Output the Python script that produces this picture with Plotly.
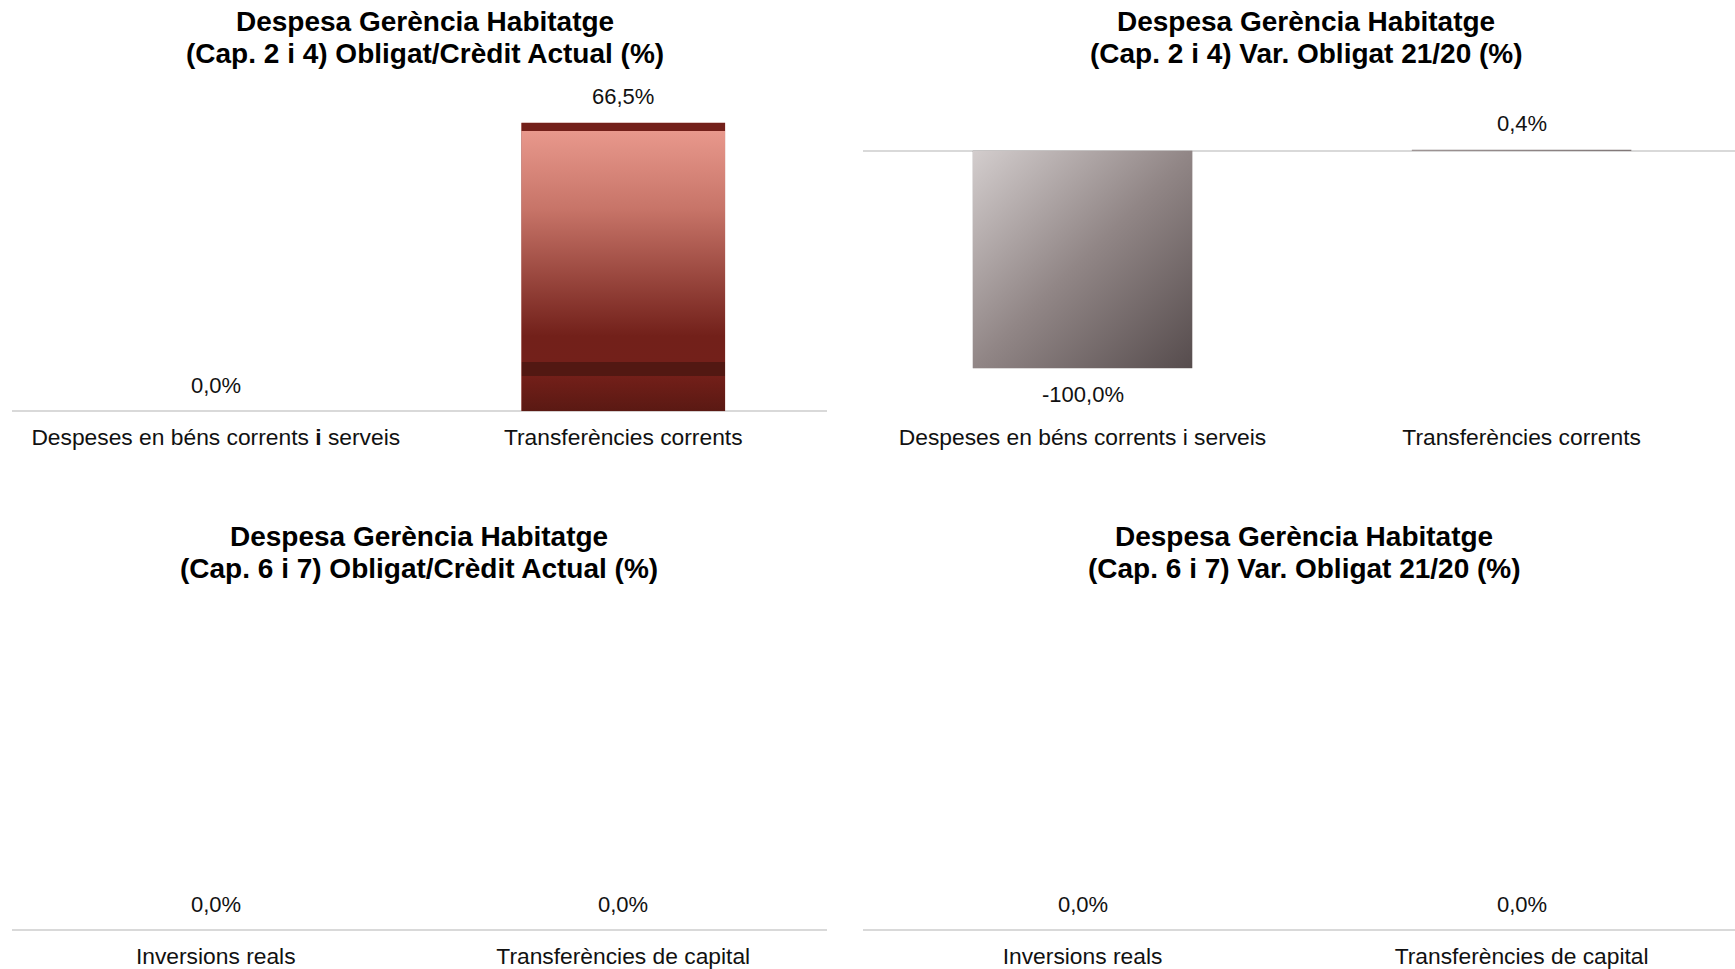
import base64
import plotly.graph_objects as go

# categories
cats_cap24 = ["Despeses en béns corrents i serveis", "Transferències corrents"]
cats_cap67 = ["Inversions reals", "Transferències de capital"]

# values (%)
oblig_credit_24 = [0.0, 66.5]
var_oblig_24 = [-100.0, 0.4]
oblig_credit_67 = [0.0, 0.0]
var_oblig_67 = [0.0, 0.0]

titles = [
    ["Despesa Gerència Habitatge", "(Cap. 2 i 4) Obligat/Crèdit Actual (%)"],
    ["Despesa Gerència Habitatge", "(Cap. 2 i 4) Var. Obligat 21/20 (%)"],
    ["Despesa Gerència Habitatge", "(Cap. 6 i 7) Obligat/Crèdit Actual (%)"],
    ["Despesa Gerència Habitatge", "(Cap. 6 i 7) Var. Obligat 21/20 (%)"],
]

W, H = 1735, 969
BAR_W = 0.5


def svg_uri(grad, x2, y2):
    stops = "".join(f"<stop offset='{o}' stop-color='{c}'/>" for o, c in grad)
    svg = ("<svg xmlns='http://www.w3.org/2000/svg' width='100' height='100' "
           "viewBox='0 0 100 100' preserveAspectRatio='none'>"
           f"<defs><linearGradient id='g' x1='0' y1='0' x2='{x2}' y2='{y2}'>{stops}"
           "</linearGradient></defs><rect width='100' height='100' fill='url(#g)'/></svg>")
    return "data:image/svg+xml;base64," + base64.b64encode(svg.encode()).decode()


red_grad = svg_uri([(0, "#73201a"), (0.029, "#73201a"), (0.029, "#e8988c"),
                    (0.30, "#c77468"), (0.74, "#72201a"), (0.829, "#73201a"),
                    (0.829, "#521812"), (0.877, "#521812"), (0.877, "#731f19"),
                    (1, "#5a1913")], 0, 1)
grey_grad = svg_uri([(0, "#d3cdcd"), (0.5, "#918686"), (1, "#564c4d")], 1, 1)


def px_y(p):
    return 1 - p / H


panels = [
    dict(cats=cats_cap24, vals=oblig_credit_24, xd=[12 / W, 827 / W], xr=[-0.5, 1.5],
         yd=[px_y(412), px_y(90)], yr=[0, 74.09], img=red_grad, col="#a04a3f",
         tx=425, ty=[22, 54], bold_i=True),
    dict(cats=cats_cap24, vals=var_oblig_24, xd=[863 / W, 1.0], xr=[-0.5, 1.486],
         yd=[px_y(412), px_y(90)], yr=[-119.72, 27.98], img=grey_grad, col="#8c8282",
         tx=1306, ty=[22, 54], bold_i=False),
    dict(cats=cats_cap67, vals=oblig_credit_67, xd=[12 / W, 827 / W], xr=[-0.5, 1.5],
         yd=[px_y(932), px_y(610)], yr=[0, 1], img=red_grad, col="#a04a3f",
         tx=419, ty=[538, 570], bold_i=False),
    dict(cats=cats_cap67, vals=var_oblig_67, xd=[863 / W, 1.0], xr=[-0.5, 1.486],
         yd=[px_y(932), px_y(610)], yr=[0, 1], img=grey_grad, col="#8c8282",
         tx=1304, ty=[538, 570], bold_i=False),
]

fig = go.Figure()
annotations = []
images = []

for i, p in enumerate(panels):
    n = "" if i == 0 else str(i + 1)
    xa, ya = "x" + n, "y" + n
    fig.add_trace(go.Bar(x=p["cats"], y=p["vals"], width=BAR_W, xaxis=xa, yaxis=ya,
                         marker=dict(color=p["col"], line=dict(width=0)),
                         showlegend=False, hoverinfo="x+y"))
    ticktext = [c.replace(" i ", " <b>i</b> ") if p["bold_i"] else c for c in p["cats"]]
    fig.layout["xaxis" + n] = dict(domain=p["xd"], anchor=ya, range=p["xr"], type="category",
                                   showgrid=False, showline=False, zeroline=False,
                                   ticks="", tickvals=p["cats"], ticktext=ticktext,
                                   ticklabelstandoff=10,
                                   tickfont=dict(size=22.8, color="#111111"))
    fig.layout["yaxis" + n] = dict(domain=p["yd"], anchor=xa, range=p["yr"],
                                   showgrid=False, showline=False, showticklabels=False,
                                   zeroline=True, zerolinecolor="#d9d9d9", zerolinewidth=2)
    for j, (c, v) in enumerate(zip(p["cats"], p["vals"])):
        annotations.append(dict(x=c, y=v, xref=xa, yref=ya, showarrow=False,
                                text=f"{v:.1f}".replace(".", ",") + "%",
                                yshift=26 if v >= 0 else -26,
                                font=dict(size=22, color="#111111")))
        if v != 0:
            images.append(dict(source=p["img"], xref=xa, yref=ya,
                               x=j - BAR_W / 2, y=max(v, 0), sizex=BAR_W, sizey=abs(v),
                               xanchor="left", yanchor="top", sizing="stretch",
                               layer="above"))
    for k, line in enumerate(titles[i]):
        annotations.append(dict(x=p["tx"] / W, y=px_y(p["ty"][k]), xref="paper", yref="paper",
                                text=f"<b>{line}</b>", showarrow=False,
                                xanchor="center", yanchor="middle",
                                font=dict(size=28, color="#000000")))

fig.update_layout(
    width=W, height=H,
    margin=dict(l=0, r=0, t=0, b=0),
    paper_bgcolor="white", plot_bgcolor="white",
    font=dict(family="Liberation Sans, Arial, sans-serif"),
    annotations=annotations,
    images=images,
    bargap=0.5,
)

# drop the default page margin so the figure sits flush with the window
fig.write_html("out.html", config={"displayModeBar": False},
               post_script="document.body.style.margin='0';document.body.style.overflow='hidden';")
